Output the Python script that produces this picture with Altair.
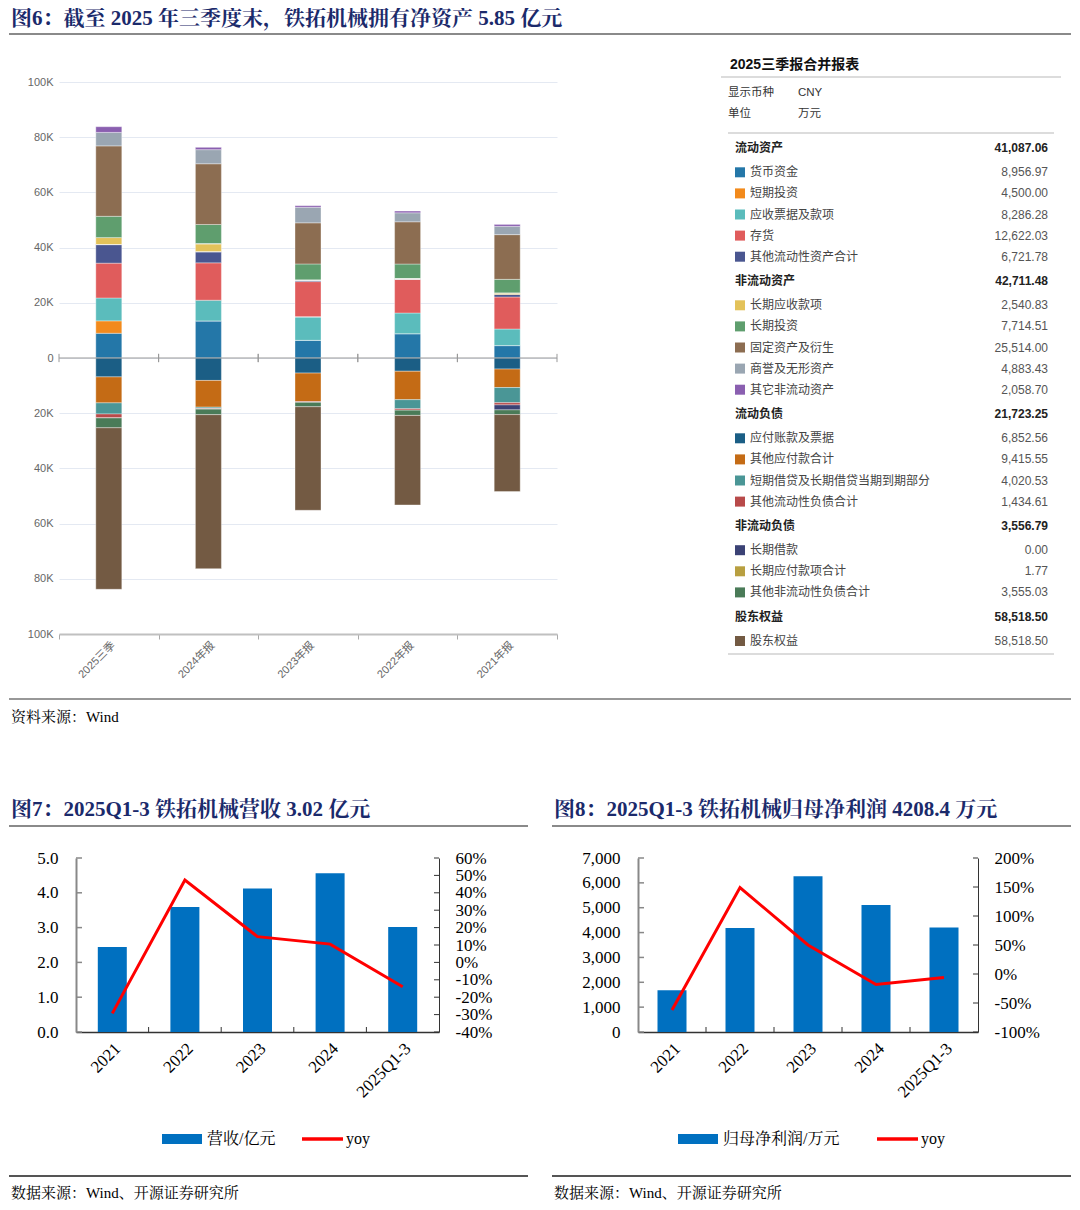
import altair as alt
import pandas as pd

# ---------------- data ----------------
categories = ["2025三季", "2024年报", "2023年报", "2022年报", "2021年报"]

asset_names = ["货币资金", "短期投资", "应收票据及款项", "存货", "其他流动性资产合计",
               "长期应收款项", "长期投资", "固定资产及衍生", "商誉及无形资产", "其它非流动资产"]
asset_colors = ["#2477a8", "#f28a1c", "#5bbcbc", "#e05c5c", "#4a5690",
                "#e3c25a", "#5f9e6e", "#8c6d51", "#9aa6b2", "#8a5fb0"]
asset_values = [
    [8956.97, 13430, 6410, 8800, 4500],
    [4500.00, 0, 0, 0, 0],
    [8286.28, 7500, 8470, 7500, 6000],
    [12622.03, 13550, 12800, 12200, 11600],
    [6721.78, 4000, 500, 100, 900],
    [2540.83, 2900, 0, 150, 500],
    [7714.51, 7000, 5900, 5300, 5000],
    [25514.00, 22000, 14900, 15300, 16200],
    [4883.43, 5100, 5600, 3250, 3000],
    [2058.70, 850, 600, 650, 700],
]

liab_names = ["应付账款及票据", "其他应付款合计", "短期借贷及长期借贷当期到期部分", "其他流动性负债合计",
              "长期借款", "长期应付款项合计", "其他非流动性负债合计", "股东权益"]
liab_colors = ["#1b5e85", "#c46b15", "#4a9696", "#b84a4a",
               "#3b4275", "#b89f40", "#4a7b58", "#735a43"]
liab_values = [
    [6852.56, 8130, 5460, 4800, 4000],
    [9415.55, 9700, 10300, 10300, 6700],
    [4020.53, 500, 0, 3300, 5500],
    [1434.61, 200, 300, 500, 800],
    [0.00, 0, 0, 0, 1800],
    [1.77, 0, 0, 0, 0],
    [3555.03, 2000, 1600, 1900, 1700],
    [58518.50, 55800, 37520, 32450, 27900],
]

group_names = ["流动资产", "非流动资产", "流动负债", "非流动负债", "股东权益"]
group_totals = [41087.06, 42711.48, 21723.25, 3556.79, 58518.50]
group_sizes = [5, 5, 4, 3, 1]

table_title = "2025三季报合并报表"
meta_labels = ["显示币种", "单位"]
meta_values = ["CNY", "万元"]

years = ["2021", "2022", "2023", "2024", "2025Q1-3"]
revenue = [2.44, 3.59, 4.12, 4.56, 3.02]
revenue_yoy = [-0.293, 0.473, 0.148, 0.105, -0.140]
profit = [1676, 4184, 6263, 5109, 4208.4]
profit_yoy = [-0.62, 1.49, 0.50, -0.18, -0.06]

title6 = "图6：截至 2025 年三季度末，铁拓机械拥有净资产 5.85 亿元"
title7 = "图7：2025Q1-3 铁拓机械营收 3.02 亿元"
title8 = "图8：2025Q1-3 铁拓机械归母净利润 4208.4 万元"
source6 = "资料来源：Wind"
source78 = "数据来源：Wind、开源证券研究所"

SERIF = "Liberation Serif, 'Noto Serif CJK SC', 'Noto Sans CJK SC', serif"
SANS = "Liberation Sans, Arial, 'Noto Sans CJK SC', sans-serif"
NAVY = "#1b2a6b"

one = pd.DataFrame({"k": [0]})

# ---------------- stacked balance chart ----------------
rows = []
for i, (n, vals) in enumerate(zip(asset_names, asset_values)):
    for cat, v in zip(categories, vals):
        rows.append({"cat": cat, "item": n, "value": v, "ord": i})
for i, (n, vals) in enumerate(zip(liab_names, liab_values)):
    for cat, v in zip(categories, vals):
        rows.append({"cat": cat, "item": n, "value": -v, "ord": i})
stack_df = pd.DataFrame(rows)

SW, SH = 498, 552
xband = alt.Scale(paddingInner=0, paddingOuter=0)
sx_axis = alt.Axis(title=None, labelAngle=-45, labelColor="#666", labelFontSize=11, labelFont=SANS,
                   tickBand="extent", tickColor="#aaa", tickSize=5, domainColor="#c0c0c0",
                   domainWidth=2, labelPadding=0, grid=False)
bars = alt.Chart(stack_df).mark_bar(size=26, stroke="#ffffff", strokeWidth=0.6, strokeOpacity=0.6).encode(
    x=alt.X("cat:N", sort=categories, scale=xband, axis=sx_axis),
    y=alt.Y("value:Q", stack="zero", scale=alt.Scale(domain=[-100000, 100000], nice=False),
            axis=alt.Axis(title=None, values=list(range(-100000, 100001, 20000)), grid=True,
                          gridColor="#e4e9f2", domain=False, ticks=False, labelColor="#666",
                          labelFontSize=11, labelFont=SANS, labelPadding=6, labelOverlap=False,
                          labelExpr="datum.value == 0 ? '0' : (abs(datum.value)/1000) + 'K'")),
    color=alt.Color("item:N", scale=alt.Scale(domain=asset_names + liab_names,
                                              range=asset_colors + liab_colors), legend=None),
    order=alt.Order("ord:Q"),
)
cat_df = pd.DataFrame({"cat": categories})
zero_line = alt.Chart(one).mark_rule(color="#999", strokeWidth=1).encode(y=alt.datum(0))
zero_ticks0 = alt.Chart(cat_df).mark_rule(color="#999").encode(
    x=alt.X("cat:N", sort=categories, bandPosition=0, axis=sx_axis), y=alt.datum(1500), y2=alt.datum(-1500))
zero_ticks1 = alt.Chart(cat_df).mark_rule(color="#999").encode(
    x=alt.X("cat:N", sort=categories, bandPosition=1, axis=sx_axis), y=alt.datum(1500), y2=alt.datum(-1500))

def txt(text, x, y, size, font=SERIF, color="#000", weight="normal", align="left"):
    return alt.Chart(one).mark_text(text=text, align=align, baseline="middle", fontSize=size,
                                    font=font, color=color, fontWeight=weight).encode(
        x=alt.value(x), y=alt.value(y))

def hrule(x1, x2, y, color="#888", width=2):
    return alt.Chart(one).mark_rule(color=color, strokeWidth=width).encode(
        x=alt.value(x1), x2=alt.value(x2), y=alt.value(y))

top_deco = [
    txt(title6, -48, -63, 21, color=NAVY, weight="bold"),
    hrule(-50, 1012, -48, "#8a8a8a", 2),
    hrule(-50, 1012, 617, "#333", 1.2),
    txt(source6, -48, 635, 15),
]
stacked = alt.layer(bars, zero_line, zero_ticks0, zero_ticks1, *top_deco).properties(width=SW, height=SH)

# ---------------- table ----------------
trows = []
y = 66.0
all_items = list(zip(asset_names, asset_colors, [v[0] for v in asset_values])) + \
            list(zip(liab_names, liab_colors, [v[0] for v in liab_values]))
idx = 0
for gi, (gname, gtot, gsize) in enumerate(zip(group_names, group_totals, group_sizes)):
    if gi > 0:
        y += 24.3
    trows.append({"ypos": y, "label": gname, "val": f"{gtot:,.2f}", "kind": "h", "color": "#000"})
    for j in range(gsize):
        y += 24.3 if j == 0 else 21.1
        n, c, v = all_items[idx]
        idx += 1
        trows.append({"ypos": y, "label": n, "val": f"{v:,.2f}", "kind": "i", "color": c})
tdf = pd.DataFrame(trows)
hdf = tdf[tdf.kind == "h"]
idf = tdf[tdf.kind == "i"]
meta_df = pd.DataFrame({"ypos": [11, 32], "label": meta_labels, "val": meta_values})
TY = alt.Y("ypos:Q", scale=alt.Scale(domain=[0, 552], reverse=True), axis=None)

t_title = alt.Chart(pd.DataFrame({"ypos": [-17], "label": [table_title]})).mark_text(
    align="left", baseline="middle", fontSize=14, fontWeight="bold", font=SANS, color="#111").encode(
    x=alt.value(2), y=TY, text="label:N")
t_meta_l = alt.Chart(meta_df).mark_text(align="left", baseline="middle", fontSize=11.5, font=SANS,
                                        color="#333").encode(x=alt.value(0), y=TY, text="label:N")
t_meta_v = alt.Chart(meta_df).mark_text(align="left", baseline="middle", fontSize=11.5, font=SANS,
                                        color="#333").encode(x=alt.value(70), y=TY, text="val:N")
line_df = pd.DataFrame({"ypos": [-5, 51, 572], "x1": [-7, 0, 0], "x2": [333, 326, 326]})
t_lines = alt.Chart(line_df).mark_rule(color="#dcdcdc", strokeWidth=2).encode(
    y=TY, x=alt.X("x1:Q", scale=alt.Scale(domain=[0, 323], range=[0, 323]), axis=None), x2="x2:Q")
t_head = alt.Chart(hdf).mark_text(align="left", baseline="middle", fontSize=12, fontWeight="bold",
                                  font=SANS, color="#222").encode(x=alt.value(7), y=TY, text="label:N")
t_headv = alt.Chart(hdf).mark_text(align="right", baseline="middle", fontSize=12, fontWeight="bold",
                                   font=SANS, color="#222").encode(x=alt.value(320), y=TY, text="val:N")
t_sq = alt.Chart(idf).mark_square(size=100, opacity=1).encode(
    x=alt.value(12), y=TY, color=alt.Color("color:N", scale=None))
t_item = alt.Chart(idf).mark_text(align="left", baseline="middle", fontSize=12, font=SANS,
                                  color="#444").encode(x=alt.value(22), y=TY, text="label:N")
t_itemv = alt.Chart(idf).mark_text(align="right", baseline="middle", fontSize=12, font=SANS,
                                   color="#555").encode(x=alt.value(320), y=TY, text="val:N")
table = alt.layer(t_lines, t_title, t_meta_l, t_meta_v, t_head, t_headv, t_sq, t_item, t_itemv).properties(
    width=323, height=SH)

# ---------------- combo charts ----------------
FS = 17

def combo(vals, yoys, ldom, lticks, lfmt, rdom, rticks, width, title, leg_label, tx, leg):
    H = 174
    df = pd.DataFrame({"year": years, "val": vals, "yoy": yoys})
    xscale = alt.Scale(paddingInner=0, paddingOuter=0)
    xaxis = alt.Axis(title=None, labelAngle=-45, labelFont=SERIF, labelFontSize=FS, labelColor="#000",
                     ticks=False, domainColor="#333", domainWidth=1.5, labelPadding=8)
    lscale = alt.Scale(domain=ldom, nice=False)
    laxis = alt.Axis(title=None, values=lticks, format=lfmt, grid=False, ticks=False, labelPadding=18,
                     domainColor="#888", domainWidth=2, labelFont=SERIF, labelFontSize=FS,
                     labelColor="#000", labelOverlap=False)
    rscale = alt.Scale(domain=rdom, nice=False)
    raxis = alt.Axis(orient="right", title=None, values=rticks, grid=False, ticks=False,
                     labelExpr="replace(format(datum.value, '.0%'), '\u2212', '-')",
                     labelPadding=16, domainColor="#333", domainWidth=1, labelFont=SERIF,
                     labelFontSize=FS, labelColor="#000", labelOverlap=False)
    b = alt.Chart(df).mark_bar(color="#0070c0", size=29).encode(
        x=alt.X("year:N", sort=years, scale=xscale, axis=xaxis),
        y=alt.Y("val:Q", scale=lscale, axis=laxis))
    lt = alt.Chart(pd.DataFrame({"val": lticks})).mark_rule(color="#888", strokeWidth=1.5).encode(
        y=alt.Y("val:Q", scale=lscale, axis=laxis), x=alt.value(0), x2=alt.value(6))
    bt = alt.Chart(pd.DataFrame({"year": years[1:]})).mark_rule(color="#333").encode(
        x=alt.X("year:N", sort=years, scale=xscale, axis=xaxis, bandPosition=0),
        y=alt.value(H - 5), y2=alt.value(H))
    ln = alt.Chart(df).mark_line(color="#ff0000", strokeWidth=3).encode(
        x=alt.X("year:N", sort=years, scale=xscale, axis=xaxis),
        y=alt.Y("yoy:Q", scale=rscale, axis=raxis))
    rt = alt.Chart(pd.DataFrame({"yoy": rticks})).mark_rule(color="#333").encode(
        y=alt.Y("yoy:Q", scale=rscale, axis=raxis), x=alt.value(width - 5), x2=alt.value(width))
    deco = [
        txt(title, tx, -48, 21, color=NAVY, weight="bold"),
        hrule(tx - 2, tx - 2 + 519, -32, "#8a8a8a", 2),
        alt.Chart(one).mark_rect(color="#0070c0").encode(
            x=alt.value(leg[0]), x2=alt.value(leg[0] + 40), y=alt.value(276), y2=alt.value(286)),
        txt(leg_label, leg[0] + 45, 281, 16),
        alt.Chart(one).mark_rule(color="#ff0000", strokeWidth=3.5).encode(
            x=alt.value(leg[1]), x2=alt.value(leg[1] + 41), y=alt.value(281)),
        txt("yoy", leg[1] + 44, 281, 16),
        hrule(tx - 2, tx - 2 + 519, 318, "#555", 2),
        txt(source78, tx, 335, 15),
    ]
    left = alt.layer(b, lt, bt, *deco)
    right = alt.layer(ln, rt)
    return alt.layer(left, right).resolve_scale(y="independent").properties(width=width, height=H)

c7 = combo(revenue, revenue_yoy, [0, 5], [0, 1, 2, 3, 4, 5], ".1f", [-0.4, 0.6],
           [-0.4, -0.3, -0.2, -0.1, 0, 0.1, 0.2, 0.3, 0.4, 0.5, 0.6], 363, title7, "营收/亿元", -65, (86, 226))
c8 = combo(profit, profit_yoy, [0, 7000], [0, 1000, 2000, 3000, 4000, 5000, 6000, 7000], ",d", [-1, 2],
           [-1, -0.5, 0, 0.5, 1, 1.5, 2], 340, title8, "归母净利润/万元", -84, (40, 239))

spacer = alt.Chart(one).mark_point(opacity=0).encode(x=alt.value(0), y=alt.value(0)).properties(width=1, height=174)

row1 = alt.hconcat(stacked, table, spacing=171, bounds="flush")
row2 = alt.hconcat(spacer, alt.hconcat(c7, c8, spacing=199, bounds="flush"), spacing=16, bounds="flush")
chart = alt.vconcat(row1, row2, spacing=776, bounds="flush").properties(padding=0).configure_view(stroke=None)

chart.save("out.html", embed_options={"renderer": "svg", "actions": False})
